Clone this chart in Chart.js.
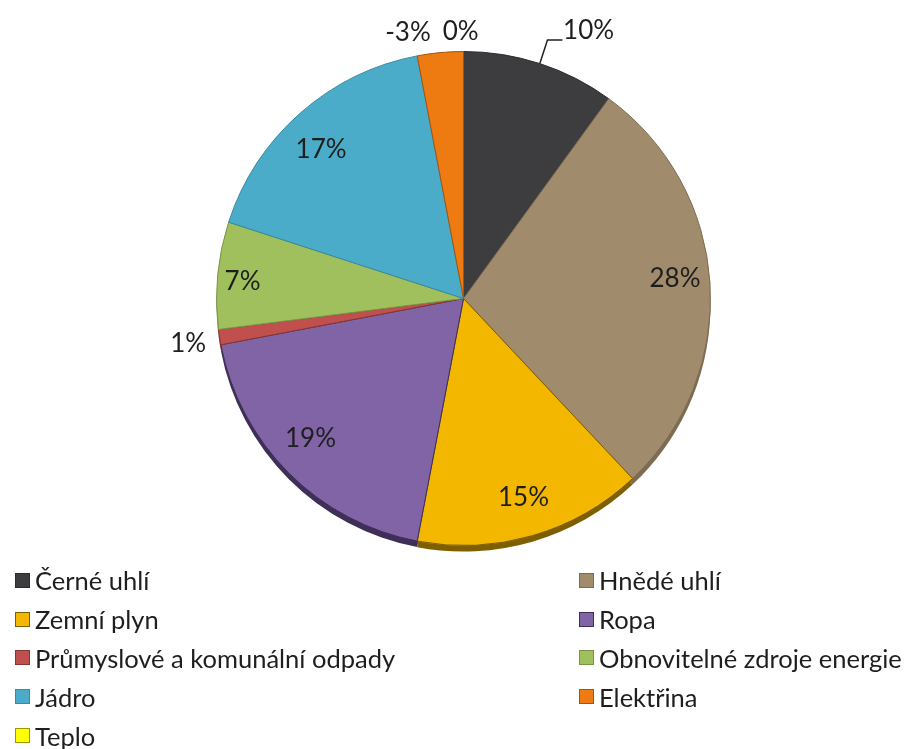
<!DOCTYPE html>
<html>
<head>
<meta charset="utf-8">
<script src="https://cdn.jsdelivr.net/npm/chart.js@4.4.1/dist/chart.umd.min.js"></script>
<style>
  html, body { margin: 0; padding: 0; background: #fff; }
  #wrap { position: relative; width: 914px; height: 749px; overflow: hidden; }
  #c { position: absolute; left: 0; top: 0; }
  #legend { position: absolute; left: 15px; top: 561px; display: grid;
    grid-template-columns: 564px 330px; grid-auto-rows: 38.8px;
    font-family: Lato, "Open Sans", sans-serif; font-size: 25.5px; color: #1e1e1e; }
  .item { display: flex; align-items: center; white-space: nowrap; }
  .sw { width: 15px; height: 15px; border: 1.5px solid; box-sizing: border-box; margin-right: 5px; flex: none; }
</style>
</head>
<body>
<div id="wrap">
  <canvas id="c" width="914" height="749"></canvas>
  <div id="legend"></div>
</div>
<script>
// ---- data ----
const categories = ['Černé uhlí', 'Hnědé uhlí', 'Zemní plyn', 'Ropa',
  'Průmyslové a komunální odpady', 'Obnovitelné zdroje energie', 'Jádro', 'Elektřina', 'Teplo'];
const shares = [10, 28, 15, 19, 1, 7, 17, -3, 0];
const shareLabels = ['10%', '28%', '15%', '19%', '1%', '7%', '17%', '-3%', '0%'];

// ---- style ----
const fills = ['#3d3d3f', '#a08b6c', '#f3b700', '#8064a6', '#c0504d', '#9fc05c', '#4aacc8', '#ee7a12', '#ffff00'];
const darks = ['#2c2c2e', '#7d6c52', '#7d5e00', '#3f2f58', '#8a3532', '#7a9447', '#3a8aa0', '#a5540d', '#9a9a00'];
// label placement relative to slice: [radius factor, angle shift in degrees]
const labelPlace = [[1.198, 7], [0.86, -1.7], [0.84, -0.6], [0.84, 2.5], [1.13, -0.4],
  [0.897, -1.1], [0.833, -2.4], [1.10, -6.4], [1.08, -0.6]];
const leaderSlices = [0];

const shadowPlugin = {
  id: 'shadow3d',
  beforeDatasetsDraw(chart) {
    const ctx = chart.ctx;
    const meta = chart.getDatasetMeta(0);
    meta.data.forEach((arc, i) => {
      if (arc.endAngle - arc.startAngle <= 0) return;
      ctx.save();
      ctx.beginPath();
      ctx.moveTo(arc.x, arc.y + 6);
      ctx.arc(arc.x, arc.y + 6, arc.outerRadius, arc.startAngle, arc.endAngle);
      ctx.closePath();
      ctx.fillStyle = darks[i];
      ctx.fill();
      ctx.restore();
    });
  }
};

const labelPlugin = {
  id: 'sliceLabels',
  afterDatasetsDraw(chart) {
    const ctx = chart.ctx;
    const meta = chart.getDatasetMeta(0);
    ctx.save();
    ctx.font = '26px Lato, "Open Sans", sans-serif';
    ctx.fillStyle = '#1e1e1e';
    ctx.textAlign = 'center';
    ctx.textBaseline = 'middle';
    meta.data.forEach((arc, i) => {
      const mid = (arc.startAngle + arc.endAngle) / 2;
      const [f, sh] = labelPlace[i];
      const a = mid + sh * Math.PI / 180;
      const r = arc.outerRadius * f;
      ctx.fillText(shareLabels[i], arc.x + Math.cos(a) * r, arc.y + Math.sin(a) * r);
    });
    ctx.strokeStyle = '#222';
    ctx.lineWidth = 1.5;
    leaderSlices.forEach(i => {
      const arc = meta.data[i];
      const mid = (arc.startAngle + arc.endAngle) / 2;
      const x0 = arc.x + Math.cos(mid) * arc.outerRadius, y0 = arc.y + Math.sin(mid) * arc.outerRadius;
      const x1 = arc.x + Math.cos(mid) * arc.outerRadius * 1.10, y1 = arc.y + Math.sin(mid) * arc.outerRadius * 1.10;
      ctx.beginPath();
      ctx.moveTo(x0, y0); ctx.lineTo(x1, y1); ctx.lineTo(x1 + 15, y1);
      ctx.stroke();
    });
    ctx.restore();
  }
};

const chart = new Chart(document.getElementById('c'), {
  type: 'pie',
  data: {
    labels: categories,
    datasets: [{ data: shares, backgroundColor: fills, borderColor: darks, borderWidth: 1 }]
  },
  options: {
    responsive: false,
    animation: false,
    layout: { padding: { left: 216, top: 51, right: 203, bottom: 203 } },
    plugins: { legend: { display: false }, tooltip: { enabled: false } }
  },
  plugins: [shadowPlugin, labelPlugin]
});

// HTML legend built from the chart data
const legendEl = document.getElementById('legend');
chart.data.labels.forEach((lab, i) => {
  const it = document.createElement('div');
  it.className = 'item';
  const sw = document.createElement('span');
  sw.className = 'sw';
  sw.style.background = fills[i];
  sw.style.borderColor = darks[i];
  const tx = document.createElement('span');
  tx.textContent = lab;
  it.appendChild(sw); it.appendChild(tx);
  legendEl.appendChild(it);
});
</script>
</body>
</html>
